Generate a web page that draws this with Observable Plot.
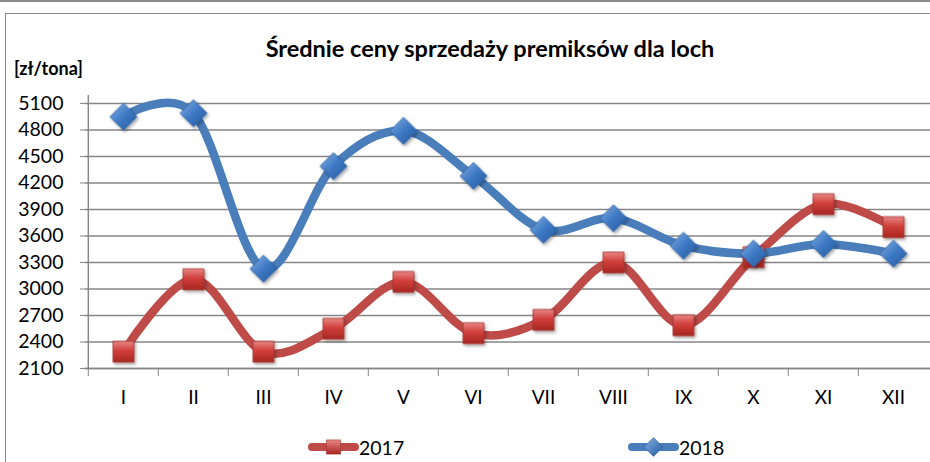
<!DOCTYPE html>
<html>
<head>
<meta charset="utf-8">
<script src="https://cdn.jsdelivr.net/npm/d3@7"></script>
<script src="https://cdn.jsdelivr.net/npm/@observablehq/plot@0.6"></script>
<style>
  html, body { margin: 0; padding: 0; background: #fff; }
  #wrap { position: relative; width: 930px; height: 462px; overflow: hidden; font-family: Lato, "Open Sans", sans-serif; }
  #topline { position: absolute; left: 0; top: 0; width: 930px; height: 2px; background: #8a8a8a; }
  #frame { position: absolute; left: 5px; top: 13px; width: 1000px; height: 500px; border: 1.5px solid #8a8a8a; box-sizing: border-box; }
  #title { position: absolute; top: 34px; left: 490px; transform: translateX(-50%); font-weight: bold; font-size: 23.5px; white-space: nowrap; color: #000; }
  #unit { position: absolute; top: 57px; left: 14px; font-weight: bold; font-size: 18px; color: #000; }
  #chart { position: absolute; left: 0; top: 0; }
  .leg { position: absolute; top: 435px; display: flex; align-items: center; font-size: 19.5px; color: #000; }
</style>
</head>
<body>
<div id="wrap">
  <div id="topline"></div>
  <div id="frame"></div>
  <div id="title">Średnie ceny sprzedaży premiksów dla loch</div>
  <div id="unit">[zł/tona]</div>
  <div id="chart"></div>
  <div class="leg" id="leg2017" style="left:308px"></div>
  <div class="leg" id="leg2018" style="left:628px"></div>
</div>
<script>
const months = ["I", "II", "III", "IV", "V", "VI", "VII", "VIII", "IX", "X", "XI", "XII"];
const series = ["2017", "2018"];
const v2017 = [2290, 3110, 2290, 2550, 3080, 2500, 2650, 3300, 2590, 3360, 3960, 3700];
const v2018 = [4950, 4990, 3230, 4390, 4790, 4280, 3670, 3800, 3490, 3400, 3510, 3400];
const yTicks = [2100, 2400, 2700, 3000, 3300, 3600, 3900, 4200, 4500, 4800, 5100];

const colors = { "2017": "#BE4B48", "2018": "#4A7EBB" };

const rows2017 = months.map((m, i) => ({ month: m, value: v2017[i] }));
const rows2018 = months.map((m, i) => ({ month: m, value: v2018[i] }));

const squareSym = {
  draw(ctx, size) {
    const h = Math.sqrt(size) / 2;
    ctx.moveTo(-h, -h); ctx.lineTo(h, -h); ctx.lineTo(h, h); ctx.lineTo(-h, h); ctx.closePath();
  }
};
const diamondSym = {
  draw(ctx, size) {
    const h = Math.sqrt(size / 2);
    ctx.moveTo(0, -h); ctx.lineTo(h, 0); ctx.lineTo(0, h); ctx.lineTo(-h, 0); ctx.closePath();
  }
};

const W = 930, ML = 85, MR = 0;
const step = (W - ML - MR) / months.length;
const grid = "#868686";
const curve = d3.curveCatmullRom.alpha(0);

const svg = Plot.plot({
  width: W,
  height: 420,
  marginTop: 95,
  marginLeft: ML,
  marginRight: MR,
  marginBottom: 52,
  x: { type: "point", domain: months, padding: 0.5, label: null },
  y: { domain: [2100, 5190], label: null },
  style: { fontFamily: "Lato, 'Open Sans', sans-serif", fontSize: "19px", color: "#000", background: "transparent", overflow: "visible" },
  marks: [
    Plot.gridY(yTicks, { stroke: grid, strokeOpacity: 1, strokeWidth: 1.4 }),
    Plot.axisY({ ticks: yTicks, tickFormat: d => String(d), tickSize: 5, tickPadding: 17, stroke: grid, fill: "#000", fontSize: 19.5, label: null }),
    Plot.ruleX([months[0]], { dx: -step / 2, y1: 2100, y2: 5190, stroke: grid, strokeWidth: 1.4 }),
    Plot.ruleY([2100], { stroke: grid, strokeWidth: 1.4 }),
    Plot.axisX({ ticks: months, tickSize: 8, tickFormat: () => "", dx: -step / 2, stroke: grid, label: null }),
    Plot.axisX({ ticks: months, tickSize: 0, tickPadding: 22, fill: "#000", fontSize: 19, label: null }),
    Plot.line(rows2017, { x: "month", y: "value", stroke: colors["2017"], strokeWidth: 8.5, curve }),
    Plot.line(rows2018, { x: "month", y: "value", stroke: colors["2018"], strokeWidth: 8.5, curve }),
    Plot.dot(rows2017, { x: "month", y: "value", symbol: squareSym, r: 11.8, fill: "url(#gRed)", stroke: "#9E3532", strokeWidth: 0.8 }),
    Plot.dot(rows2018, { x: "month", y: "value", symbol: diamondSym, r: 10.8, fill: "url(#gBlue)", stroke: "#2E5E99", strokeWidth: 0.8 })
  ]
});

const defs = `
<defs>
  <linearGradient id="gRed" x1="0" y1="0" x2="0" y2="1">
    <stop offset="0" stop-color="#E88784"/>
    <stop offset="0.45" stop-color="#D1403C"/>
    <stop offset="1" stop-color="#A82521"/>
  </linearGradient>
  <linearGradient id="gBlue" x1="0" y1="0" x2="1" y2="1">
    <stop offset="0" stop-color="#86B2E6"/>
    <stop offset="0.5" stop-color="#3E79C4"/>
    <stop offset="1" stop-color="#24599E"/>
  </linearGradient>
  <filter id="sh" x="-50%" y="-50%" width="200%" height="200%">
    <feDropShadow dx="1.5" dy="2" stdDeviation="1.5" flood-color="#000" flood-opacity="0.35"/>
  </filter>
</defs>`;
svg.insertAdjacentHTML("afterbegin", defs);
svg.querySelectorAll('g[aria-label="dot"]').forEach(g => g.setAttribute("filter", "url(#sh)"));
document.getElementById("chart").appendChild(svg);

// Legend
function legendItem(el, key, sym, fill, stroke, r) {
  const s = d3.create("svg").attr("width", 51).attr("height", 24);
  s.append("line").attr("x1", 4).attr("x2", 47).attr("y1", 12).attr("y2", 12)
    .attr("stroke", colors[key]).attr("stroke-width", 8).attr("stroke-linecap", "round");
  s.append("path").attr("transform", "translate(25.5,12)")
    .attr("d", d3.symbol(sym, r * r * Math.PI)())
    .attr("fill", fill).attr("stroke", stroke).attr("stroke-width", 0.6);
  el.appendChild(s.node());
  const t = document.createElement("span");
  t.textContent = key;
  el.appendChild(t);
}
document.getElementById("leg2017").appendChild(document.createRange().createContextualFragment('<svg width="0" height="0"><defs><linearGradient id="lgR" x1="0" y1="0" x2="0" y2="1"><stop offset="0" stop-color="#E88784"/><stop offset="1" stop-color="#A82521"/></linearGradient><linearGradient id="lgB" x1="0" y1="0" x2="1" y2="1"><stop offset="0" stop-color="#86B2E6"/><stop offset="1" stop-color="#24599E"/></linearGradient></defs></svg>'));
legendItem(document.getElementById("leg2017"), series[0], squareSym, "url(#lgR)", "#9E3532", 8);
legendItem(document.getElementById("leg2018"), series[1], diamondSym, "url(#lgB)", "#2E5E99", 7.5);
</script>
</body>
</html>
